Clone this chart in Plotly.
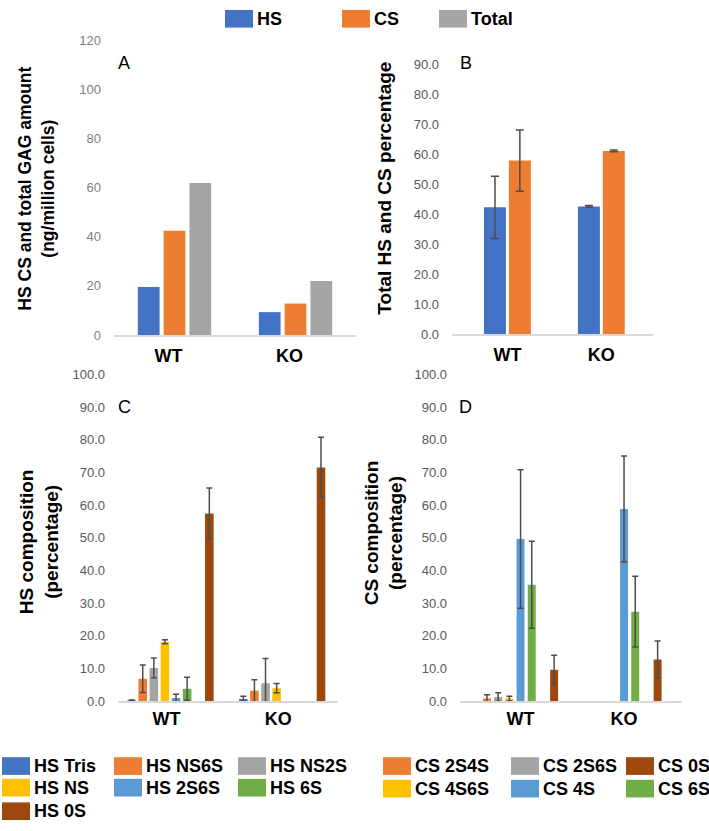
import plotly.graph_objects as go

W, H = 709, 831
FONT = 'Liberation Sans, Arial, sans-serif'


def px(x):
    return x / W


def py(y):
    return 1 - y / H


groups = ['WT', 'KO']

# A - amounts (ng/million cells)
amount_names = ['HS', 'CS', 'Total']
amount_colors = ['#4472C4', '#ED7D31', '#A5A5A5']
amount_wt = [19.5, 42.5, 61.9]
amount_ko = [9.3, 12.8, 22.0]

# B - total HS and CS percentage
pct_names = ['HS', 'CS']
pct_colors = ['#4472C4', '#ED7D31']
pct_wt = [42.2, 57.8]
pct_ko = [42.5, 61.0]
pct_err_wt = [10.4, 10.2]
pct_err_ko = [0.3, 0.3]

# C - HS composition (None = not detected)
hs_names = ['HS Tris', 'HS NS6S', 'HS NS2S', 'HS NS', 'HS 2S6S', 'HS 6S', 'HS 0S']
hs_colors = ['#4472C4', '#ED7D31', '#A5A5A5', '#FFC000', '#5B9BD5', '#70AD47', '#9E480E']
hs_wt = [0.3, 6.9, 10.2, 18.2, 1.0, 3.8, 57.4]
hs_ko = [0.7, 3.2, 5.5, 4.0, None, None, 71.5]
hs_err_wt = [0.1, 4.2, 3.0, 0.6, 1.1, 3.5, 7.8]
hs_err_ko = [0.8, 3.4, 7.6, 1.4, None, None, 9.2]

# D - CS composition
cs_names = ['CS 2S4S', 'CS 2S6S', 'CS 4S6S', 'CS 4S', 'CS 6S', 'CS 0S']
cs_colors = ['#ED7D31', '#A5A5A5', '#FFC000', '#5B9BD5', '#70AD47', '#9E480E']
cs_wt = [0.8, 1.3, 0.8, 49.6, 35.6, 9.6]
cs_ko = [None, None, None, 58.8, 27.4, 12.8]
cs_err_wt = [1.2, 1.3, 0.7, 21.2, 13.3, 4.5]
cs_err_ko = [None, None, None, 16.2, 10.8, 5.6]

fig = go.Figure()


def add_panel(ax, names, colors, wt, ko, err_wt, err_ko, slots, nslots, group_w, bar_w, cap):
    slot_w = group_w / nslots
    for i, name in enumerate(names):
        off = -group_w / 2 + slots[i] * slot_w + (slot_w - bar_w) / 2
        err = None
        if err_wt is not None:
            err = dict(type='data', array=[err_wt[i], err_ko[i]], visible=True,
                       color='#4d4d4d', thickness=1.5, width=cap)
        fig.add_trace(go.Bar(x=groups, y=[wt[i], ko[i]], name=name,
                             marker=dict(color=colors[i], line=dict(width=0)),
                             width=bar_w, offset=off, error_y=err,
                             xaxis='x' + ax, yaxis='y' + ax, showlegend=False))


add_panel('', amount_names, amount_colors, amount_wt, amount_ko, None, None,
          [0, 1, 2], 3, 0.64, 0.18, 0)
add_panel('2', pct_names, pct_colors, pct_wt, pct_ko, pct_err_wt, pct_err_ko,
          [0, 1], 2, 0.53, 0.234, 4)
add_panel('3', hs_names, hs_colors, hs_wt, hs_ko, hs_err_wt, hs_err_ko,
          [0, 1, 2, 3, 4, 5, 7], 8, 0.795, 0.077, 3)
add_panel('4', cs_names, cs_colors, cs_wt, cs_ko, cs_err_wt, cs_err_ko,
          [0, 1, 2, 3, 4, 6], 7, 0.757, 0.077, 3)

xax = dict(type='category', showline=True, linecolor='#d9d9d9', linewidth=1.5,
           showgrid=False, zeroline=False, ticks='',
           tickfont=dict(family=FONT, size=18, color='black', weight='bold'))
yax = dict(showline=False, showgrid=False, zeroline=False, ticks='',
           ticklabelstandoff=12, tickfont=dict(family=FONT, size=13, color='#595959'))

fig.update_layout(
    xaxis=dict(xax, domain=[px(114), px(356)], anchor='y', ticklabelshift=-6,
               ticklabelstandoff=4),
    yaxis=dict(yax, domain=[py(334), py(34)], range=[0, 120], dtick=20,
               anchor='x', tickfont=dict(family=FONT, size=13, color='#7f7f7f')),
    xaxis2=dict(xax, domain=[px(452), px(653)], anchor='y2', range=[-0.59, 1.55],
                ticklabelstandoff=4),
    yaxis2=dict(yax, domain=[py(333), py(58)], range=[0, 90], dtick=10,
                tickformat='.1f', anchor='x2'),
    xaxis3=dict(xax, domain=[px(118), px(338)], anchor='y3', range=[-0.47, 1.50],
                ticklabelshift=-4),
    yaxis3=dict(yax, domain=[py(707), py(374)], range=[0, 100], dtick=10,
                tickformat='.1f', anchor='x3'),
    xaxis4=dict(xax, domain=[px(460), px(682)], anchor='y4', range=[-0.585, 1.56]),
    yaxis4=dict(yax, domain=[py(707), py(374)], range=[0, 100], dtick=10,
                tickformat='.1f', anchor='x4'),
    width=W, height=H, margin=dict(l=0, r=0, t=0, b=0),
    plot_bgcolor='white', paper_bgcolor='white', showlegend=False,
)

ann = []

# axis titles
for x, y, txt, size in [(37, 185, 'HS CS and total GAG amount<br>(ng/million cells)', 17.5),
                        (385, 185, 'Total HS and CS percentage', 19),
                        (39, 545, 'HS composition<br>(percentage)', 19),
                        (384, 536, 'CS composition<br>(percentage)', 19)]:
    ann.append(dict(x=px(x), y=py(y), xref='paper', yref='paper', text=txt,
                    textangle=-90, showarrow=False,
                    font=dict(family=FONT, size=size, color='black', weight='bold'),
                    xanchor='center', yanchor='middle'))

# panel letters
for x, y, txt in [(124, 57, 'A'), (466, 57, 'B'), (124, 407, 'C'), (465, 407, 'D')]:
    ann.append(dict(x=px(x), y=py(y), xref='paper', yref='paper', text=txt,
                    showarrow=False, font=dict(family=FONT, size=18, color='black'),
                    xanchor='center', yanchor='middle'))

shapes = []


def legend_item(x0, yc, name, color, size=18):
    shapes.append(dict(type='rect', xref='paper', yref='paper',
                       x0=px(x0), x1=px(x0 + 28), y0=py(yc + 9), y1=py(yc - 9),
                       fillcolor=color, line=dict(width=0)))
    ann.append(dict(x=px(x0 + 30), y=py(yc), xref='paper', yref='paper', text=name,
                    showarrow=False, xanchor='left', yanchor='middle',
                    font=dict(family=FONT, size=size, color='black', weight='bold')))


# top legend
for x0, name, color in zip([225, 342, 439], amount_names, amount_colors):
    legend_item(x0, 12, name, color)

# HS legend
hs_cols = [2, 114, 238]
hs_rows = [773, 795, 819]
for i, (name, color) in enumerate(zip(hs_names, hs_colors)):
    legend_item(hs_cols[i % 3], hs_rows[i // 3], name, color)

# CS legend
cs_cols = [383, 511, 626]
cs_rows = [773, 796]
cs_order = [0, 1, 5, 2, 3, 4]
for k, i in enumerate(cs_order):
    legend_item(cs_cols[k % 3], cs_rows[k // 3], cs_names[i], cs_colors[i])

fig.update_layout(annotations=ann, shapes=shapes)

# drop the default page margin so the figure sits at the window's corner
fig.write_html('out.html', config={'displayModeBar': False},
               post_script="document.body.style.margin='0';document.body.style.overflow='hidden';")
